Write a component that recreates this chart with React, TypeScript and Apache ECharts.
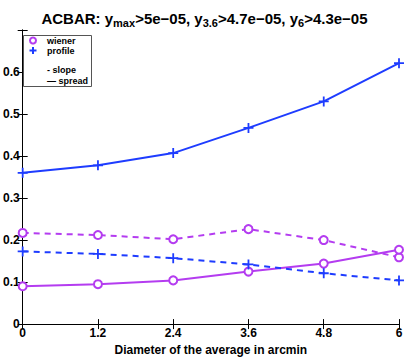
import React, { useEffect, useRef } from "react";
import * as echarts from "echarts";

const xValues = [0, 1.2, 2.4, 3.6, 4.8, 6];
const wienerSlope = [0.217, 0.212, 0.202, 0.226, 0.2, 0.159];
const wienerSpread = [0.09, 0.095, 0.104, 0.125, 0.144, 0.177];
const profileSlope = [0.173, 0.167, 0.157, 0.142, 0.121, 0.104];
const profileSpread = [0.36, 0.378, 0.407, 0.467, 0.53, 0.621];
const xTicks = [0, 1.2, 2.4, 3.6, 4.8, 6];
const yTicks = [0, 0.1, 0.2, 0.3, 0.4, 0.5, 0.6];

const PURPLE = "#b43cf0";
const BLUE = "#1e3cff";
const FONT = "Liberation Sans, Arial, sans-serif";
const PLUS = "path://M-1,-0.18H1V0.18H-1Z M-0.18,-1H0.18V1H-0.18Z";

const pairs = (ys: number[]) => xValues.map((x, i) => [x, ys[i]]);

export default function App() {
  const ref = useRef<HTMLDivElement>(null);
  useEffect(() => {
    if (!ref.current) return;
    const chart = echarts.init(ref.current, undefined, { renderer: "svg" });
    const axisCommon = {
      axisLine: { show: true, lineStyle: { color: "#000", width: 1 } },
      axisTick: { show: true, inside: true, length: 5, lineStyle: { color: "#000" } },
      splitLine: { show: false },
    };
    const mkSeries = (name: string, ys: number[], color: string, dashed: boolean, isPlus: boolean) => ({
      name,
      type: "line",
      data: pairs(ys),
      xAxisIndex: 0,
      yAxisIndex: 0,
      lineStyle: { color, width: 2, type: dashed ? [6, 5] : "solid" },
      itemStyle: isPlus ? { color } : { color: "#fff", borderColor: color, borderWidth: 2 },
      symbol: isPlus ? PLUS : "circle",
      symbolSize: isPlus ? 10 : 8,
      showSymbol: true,
      z: isPlus ? 3 : 2,
    });
    chart.setOption({
      animation: false,
      backgroundColor: "#fff",
      title: {
        text: "ACBAR: y{sub|max}>5e−05, y{sub|3.6}>4.7e−05, y{sub|6}>4.3e−05",
        left: "center",
        top: 4,
        textStyle: {
          fontFamily: FONT,
          fontSize: 15,
          fontWeight: "bold",
          color: "#000",
          rich: {
            sub: { fontFamily: FONT, fontSize: 11, fontWeight: "bold", color: "#000", verticalAlign: "bottom", padding: [8, 0, 0, 0] },
          },
        },
      },
      grid: { left: 20, right: 10, top: 30, bottom: 31 },
      xAxis: [
        {
          type: "value",
          min: 0,
          max: 6,
          interval: 1.2,
          position: "bottom",
          ...axisCommon,
          axisLabel: {
            fontFamily: FONT,
            fontSize: 12,
            fontWeight: "bold",
            color: "#000",
            margin: 3,
            formatter: (v: number) => String(Number(v.toFixed(1))),
          },
          name: "Diameter of the average in arcmin",
          nameLocation: "middle",
          nameGap: 16,
          nameTextStyle: { fontFamily: FONT, fontSize: 12, fontWeight: "bold", color: "#000" },
        },
        {
          type: "value",
          min: 0,
          max: 6,
          interval: 1.2,
          position: "top",
          ...axisCommon,
          axisLabel: { show: false },
        },
      ],
      yAxis: [
        {
          type: "value",
          min: 0,
          max: 0.7,
          interval: 0.1,
          position: "left",
          ...axisCommon,
          axisLabel: {
            fontFamily: FONT,
            fontSize: 12,
            fontWeight: "bold",
            color: "#000",
            margin: 3,
            formatter: (v: number) => {
              const r = Number(v.toFixed(1));
              return yTicks.includes(r) ? String(r) : "";
            },
          },
        },
        {
          type: "value",
          min: 0,
          max: 0.7,
          interval: 0.1,
          position: "right",
          ...axisCommon,
          axisLabel: { show: false },
        },
      ],
      series: [
        mkSeries("wiener slope", wienerSlope, PURPLE, true, false),
        mkSeries("wiener spread", wienerSpread, PURPLE, false, false),
        mkSeries("profile slope", profileSlope, BLUE, true, true),
        mkSeries("profile spread", profileSpread, BLUE, false, true),
      ],
      graphic: [
        {
          type: "rect",
          shape: { x: 23.5, y: 35.5, width: 68, height: 51 },
          style: { fill: "#fff", stroke: "#555", lineWidth: 1 },
          z: 100,
        },
        {
          type: "circle",
          shape: { cx: 33, cy: 40.5, r: 3 },
          style: { fill: "#fff", stroke: PURPLE, lineWidth: 2 },
          z: 101,
        },
        {
          type: "rect",
          shape: { x: 29.5, y: 49.5, width: 7, height: 2 },
          style: { fill: BLUE },
          z: 101,
        },
        {
          type: "rect",
          shape: { x: 32, y: 47, width: 2, height: 7 },
          style: { fill: BLUE },
          z: 101,
        },
        {
          type: "text",
          x: 47,
          y: 40.5,
          style: { text: "wiener", font: `bold 9px ${FONT}`, fill: "#000", verticalAlign: "middle" },
          z: 101,
        },
        {
          type: "text",
          x: 47,
          y: 50.5,
          style: { text: "profile", font: `bold 9px ${FONT}`, fill: "#000", verticalAlign: "middle" },
          z: 101,
        },
        {
          type: "text",
          x: 47,
          y: 70,
          style: { text: "- slope", font: `bold 9px ${FONT}`, fill: "#000", verticalAlign: "middle" },
          z: 101,
        },
        {
          type: "text",
          x: 47,
          y: 80.5,
          style: { text: "— spread", font: `bold 9px ${FONT}`, fill: "#000", verticalAlign: "middle" },
          z: 101,
        },
      ],
    });
    return () => chart.dispose();
  }, []);
  return (
    <div
      ref={ref}
      style={{ position: "fixed", left: 0, top: 0, width: 409, height: 361 }}
    />
  );
}
